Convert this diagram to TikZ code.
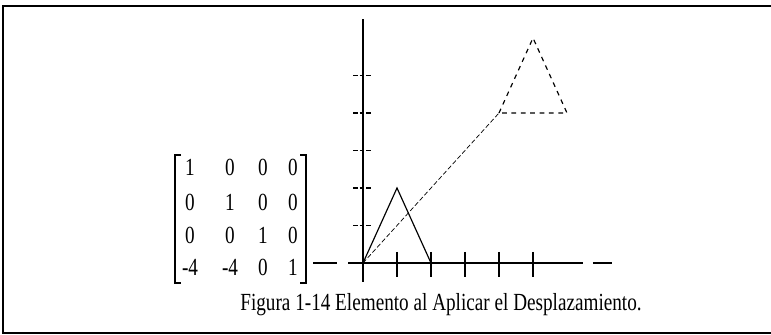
\documentclass[tikz,border=0pt]{standalone}
\usepackage{fontspec}
\setmainfont[FakeStretch=0.78]{Liberation Serif}
\usetikzlibrary{positioning}

\begin{document}
\begin{tikzpicture}[x=0.03cm,y=-0.03cm,
    every node/.style={inner sep=0pt},
    entry/.style={font=\fontsize{21}{21}\selectfont},
    axis/.style={line width=1.3pt},
    tick/.style={line width=0.9pt}]
  \useasboundingbox (0,0) rectangle (771,335);

  % frame
  \draw[line width=1pt] (771,6) -- (3,6) -- (3,333) -- (771,333);

  % matrix entries
  \foreach \row [count=\i] in {{1,0,0,0},{0,1,0,0},{0,0,1,0},{-4,-4,0,1}}
    \foreach \v [count=\j] in \row {
      \pgfmathsetmacro{\ex}{{190,230,263,293}[\j-1]}
      \pgfmathsetmacro{\ey}{{167,202,235,267}[\i-1]}
      \node[entry] (e\i\j) at (\ex,\ey) {\v};
    }
  % brackets
  \draw[line width=1.1pt] (181,155) -- (175,155) -- (175,283) -- (181,283);
  \draw[line width=1.1pt] (300,155) -- (306,155) -- (306,283) -- (300,283);

  % axes and element
  \begin{scope}[shift={(363,263)},x=1.02cm,y=1.125cm]
    \coordinate (o) at (0,0);
    \draw[axis] (0,6.5) -- (0,-0.5);
    \draw[tick] (-1.47,0) -- (-0.76,0);
    \draw[tick] (-0.44,0) -- (6.47,0);
    \draw[tick] (6.76,0) -- (7.32,0);
    \foreach \k in {1,...,5} {
      \draw[tick] (\k,0.3) -- (\k,-0.37);
      \draw[tick,dash pattern=on 4pt off 1.5pt] (-0.29,\k) -- (0.26,\k);
    }

    % original element
    \coordinate (p1) at (1,2);
    \coordinate (p2) at (2,0);
    \draw[line width=1pt] (o) -- (p1) -- (p2);

    % displaced element
    \coordinate (q0) at (4,4);
    \coordinate (q1) at (5,6);
    \coordinate (q2) at (6,4);
    \draw[line width=0.6pt,dash pattern=on 4pt off 2pt] (o) -- (q0);
    \draw[line width=1pt,dash pattern=on 4pt off 4pt] (q0) -- (q1) -- (q2) -- cycle;
  \end{scope}

  % caption
  \node[font=\fontsize{21}{21}\selectfont] (cap) at (441,305)
    {Figura 1-14 Elemento al Aplicar el Desplazamiento.};
\end{tikzpicture}
\end{document}
